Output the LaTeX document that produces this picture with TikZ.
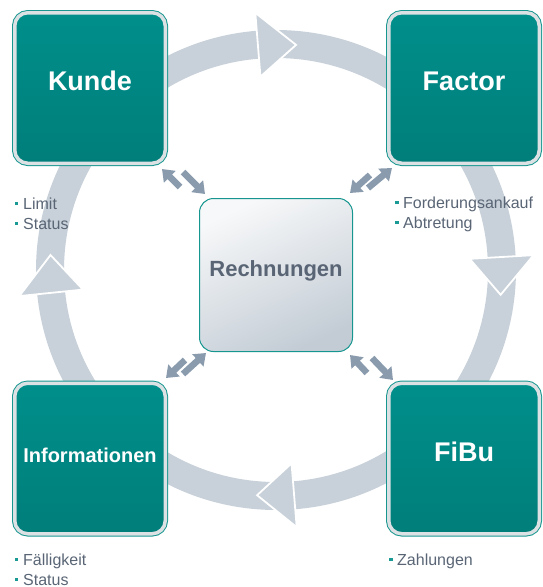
\documentclass[tikz,border=0pt]{standalone}
\usepackage{fontspec}
\setmainfont{Liberation Sans}
\usetikzlibrary{arrows.meta,calc}
\definecolor{band}{HTML}{C8D1D9}
\definecolor{tealtop}{HTML}{008F8B}
\definecolor{tealmid}{HTML}{009A90}
\definecolor{tealbot}{HTML}{007E7A}
\definecolor{tealline}{HTML}{17968F}
\definecolor{rim}{HTML}{DCE1E4}
\definecolor{rechtop}{HTML}{F7F8F9}
\definecolor{rechbot}{HTML}{C3CCD5}
\definecolor{slate}{HTML}{596575}
\definecolor{arrowgray}{HTML}{8A9BAD}
\definecolor{bulteal}{HTML}{1A9A94}
\newcommand\bul{{\color{bulteal}\rule[4pt]{3.3pt}{3.3pt}}\hspace{4.7pt}}
\begin{document}
\begin{tikzpicture}[x=1pt,y=-1pt,
  ringband/.style={draw=band, line width=28pt},
  tri/.style={fill=band, draw=white, line width=1.8pt, line join=miter},
  tealbox/.style={rounded corners=13pt, minimum width=150.5pt, minimum height=150.5pt,
    top color=tealtop, middle color=tealmid, bottom color=tealbot,
    draw=rim, line width=3.5pt, preaction={draw=tealline, line width=5.5pt},
    text=white, inner sep=0pt},
  bigtitle/.style={font=\bfseries\fontsize{27}{27}\selectfont, text height=19.3pt, text depth=13.9pt},
  smalltitle/.style={font=\bfseries\fontsize{20}{20}\selectfont, text height=14.3pt, text depth=6.9pt},
  rechbox/.style={rounded corners=14pt, minimum width=153pt, minimum height=153pt,
    shading=axis, top color=rechtop, bottom color=rechbot, shading angle=25,
    draw=tealline, line width=1pt, text=slate, inner sep=0pt,
    font=\bfseries\fontsize{22}{22}\selectfont, text height=15.75pt, text depth=12pt},
  dbl/.style={draw=arrowgray, line width=6.5pt, line cap=butt,
    -{Triangle[width=16pt,length=11pt]}},
  bultext/.style={anchor=base west, inner sep=0pt, text=slate, font=\fontsize{16}{20}\selectfont}
]
\useasboundingbox (0,0) rectangle (542,587);

% ring
\coordinate (ringc) at (276,270);
\draw[ringband] (ringc) circle[radius=226pt];
% arrowheads on ring
\path[tri] ($(ringc)+(-94.6:194)$) -- ($(ringc)+(-94.6:258)$) -- ($(ringc)+(-84.9:226)$) -- cycle;
\path[tri] ($(ringc)+(-3.3:194)$) -- ($(ringc)+(-3.3:258)$) -- ($(ringc)+(6.3:226)$) -- cycle;
\path[tri] ($(ringc)+(85.4:194)$) -- ($(ringc)+(85.4:258)$) -- ($(ringc)+(94.8:226)$) -- cycle;
\path[tri] ($(ringc)+(174.2:194)$) -- ($(ringc)+(174.2:258)$) -- ($(ringc)+(183.8:226)$) -- cycle;

% boxes
\node[tealbox, bigtitle] (kunde) at (90,88) {Kunde};
\node[tealbox, bigtitle] (factor) at (464,88) {Factor};
\node[tealbox, smalltitle] (info) at (90,458.5) {Informationen};
\node[tealbox, bigtitle] (fibu) at (464,458.5) {FiBu};
\node[rechbox] (rech) at (276,275) {Rechnungen};

% double arrows
\coordinate (tl1s) at (180,187); \coordinate (tl1e) at (162,169);
\coordinate (tl2s) at (183,172); \coordinate (tl2e) at (205,194);
\coordinate (tr1s) at (370,175); \coordinate (tr1e) at (350,193);
\coordinate (tr2s) at (368,188); \coordinate (tr2e) at (392,168);
\coordinate (bl1s) at (185,360); \coordinate (bl1e) at (166,378);
\coordinate (bl2s) at (183,374); \coordinate (bl2e) at (206,353);
\coordinate (br1s) at (367,373); \coordinate (br1e) at (350,355);
\coordinate (br2s) at (372,358); \coordinate (br2e) at (393,380);
\foreach \p in {tl1,tl2,tr1,tr2,bl1,bl2,br1,br2}
  \draw[dbl] (\p s) -- (\p e);

% bullet texts
\node[bultext] (kundeA) at (15,209) {\bul Limit};
\node[bultext] (kundeB) at (15,229) {\bul Status};
\node[bultext] (factorA) at (395,208) {\bul Forderungsankauf};
\node[bultext] (factorB) at (395,228) {\bul Abtretung};
\node[bultext] (infoA) at (15,565) {\bul Fälligkeit};
\node[bultext] (infoB) at (15,585) {\bul Status};
\node[bultext] (fibuA) at (389,565) {\bul Zahlungen};
\end{tikzpicture}
\end{document}
